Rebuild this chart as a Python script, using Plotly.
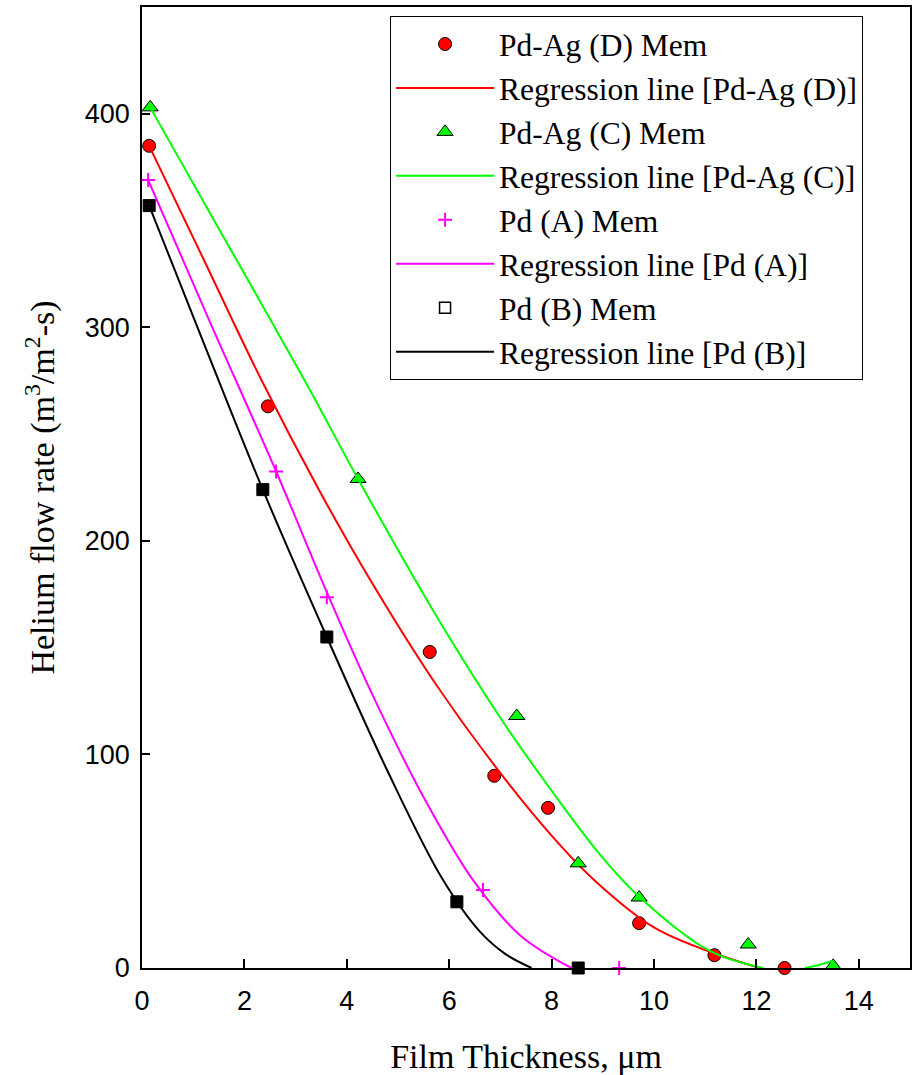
import plotly.graph_objects as go

# ---------------- data ----------------
# Pd-Ag (D) membrane measurements
d_x = [0.14, 2.46, 5.62, 6.88, 7.93, 9.71, 11.18, 12.55]
d_y = [385, 263, 148, 90, 75, 21, 6, 0]
# Regression line for Pd-Ag (D)
d_fit_x = [0.14, 1.2, 2.34, 3.5, 4.5, 5.68, 6.88, 8.0, 8.84, 10.0, 11.09, 12.07]
d_fit_y = [385, 332, 275, 222, 180, 135, 95, 62, 41, 19, 7.6, 0]

# Pd-Ag (C) membrane measurements
c_x = [0.16, 4.22, 7.32, 8.52, 9.71, 11.84, 13.5]
c_y = [403, 229, 118, 49, 33, 11, 1]
# Regression line for Pd-Ag (C) (clipped below zero -> gap)
c_fit_x = [0.16, 1.6, 3.18, 4.22, 5.82, 7.03, 8.0, 8.95, 9.71, 11.09, 12.13, None, 12.95, 13.2, 13.49]
c_fit_y = [403, 342, 275, 229, 162, 116, 83, 53, 33.4, 8, 0, None, 0, 1.3, 3.4]

# Pd (A) membrane measurements
a_x = [0.12, 2.62, 3.61, 6.66, 9.32]
a_y = [369, 232.5, 173.6, 36.5, 0]
# Regression line for Pd (A)
a_fit_x = [0.12, 1.3, 2.62, 3.61, 4.5, 5.5, 6.47, 7.4, 8.39]
a_fit_y = [369, 304, 232.5, 176, 128, 80, 41, 15, 0]

# Pd (B) membrane measurements
b_x = [0.14, 2.36, 3.61, 6.15, 8.52]
b_y = [357, 224, 155, 31, 0]
# Regression line for Pd (B)
b_fit_x = [0.14, 1.2, 2.36, 3.61, 4.8, 5.86, 6.6, 7.1, 7.61]
b_fit_y = [357, 293, 224, 155, 92, 42, 17, 6.5, 0]

x_ticks = [0, 2, 4, 6, 8, 10, 12, 14]
y_ticks = [0, 100, 200, 300, 400]

RED = "#FF0000"
GREEN = "#00FF00"
MAGENTA = "#FF00FF"
BLACK = "#000000"

fig = go.Figure()

# Pd-Ag (D)
fig.add_trace(go.Scatter(
    x=d_x, y=d_y, mode="markers", name="Pd-Ag (D) Mem", cliponaxis=False,
    marker=dict(symbol="circle", size=13, color=RED, line=dict(color=BLACK, width=1))))
fig.add_trace(go.Scatter(
    x=d_fit_x, y=d_fit_y, mode="lines", name="Regression line [Pd-Ag (D)]",
    line=dict(color=RED, width=2, shape="spline", smoothing=1)))

# Pd-Ag (C)
fig.add_trace(go.Scatter(
    x=c_x, y=c_y, mode="markers", name="Pd-Ag (C) Mem", cliponaxis=False,
    marker=dict(symbol="triangle-up", size=14, color=GREEN, line=dict(color=BLACK, width=1))))
fig.add_trace(go.Scatter(
    x=c_fit_x, y=c_fit_y, mode="lines", name="Regression line [Pd-Ag (C)]",
    connectgaps=False,
    line=dict(color=GREEN, width=2, shape="spline", smoothing=1)))

# Pd (A)
fig.add_trace(go.Scatter(
    x=a_x, y=a_y, mode="markers", name="Pd (A) Mem", cliponaxis=False,
    marker=dict(symbol="cross-thin", size=10, color=MAGENTA, line=dict(color=MAGENTA, width=2))))
fig.add_trace(go.Scatter(
    x=a_fit_x, y=a_fit_y, mode="lines", name="Regression line [Pd (A)]",
    line=dict(color=MAGENTA, width=2, shape="spline", smoothing=1)))

# Pd (B): filled squares on the plot, hollow square in the legend
fig.add_trace(go.Scatter(
    x=b_x, y=b_y, mode="markers", name="Pd (B) Mem", showlegend=False,
    legendgroup="pdb", cliponaxis=False,
    marker=dict(symbol="square", size=12, color=BLACK, line=dict(color=BLACK, width=1))))
fig.add_trace(go.Scatter(
    x=[None], y=[None], mode="markers", name="Pd (B) Mem", legendgroup="pdb",
    marker=dict(symbol="square", size=11, color="white", line=dict(color=BLACK, width=1.5))))
fig.add_trace(go.Scatter(
    x=b_fit_x, y=b_fit_y, mode="lines", name="Regression line [Pd (B)]",
    line=dict(color=BLACK, width=2, shape="spline", smoothing=1)))

SERIF = "Liberation Serif, Times New Roman, serif"
SANS = "Liberation Sans, Arial, sans-serif"

fig.update_layout(
    width=912, height=1075,
    margin=dict(l=142, r=2, t=7, b=107, autoexpand=False),
    paper_bgcolor="white", plot_bgcolor="white",
    showlegend=True,
    legend=dict(
        x=0.323, y=0.9906, xanchor="left", yanchor="top",
        bgcolor="white", bordercolor=BLACK, borderwidth=1,
        font=dict(family=SERIF, size=31.5, color=BLACK),
        itemwidth=98, tracegroupgap=0, traceorder="normal",
    ),
    xaxis=dict(
        range=[0, 15], tickvals=x_ticks, ticks="inside", ticklen=9, tickwidth=1.5,
        tickcolor=BLACK, showline=True, linecolor=BLACK, linewidth=1.5, mirror=True,
        showgrid=False, zeroline=False, ticklabelstandoff=8,
        tickfont=dict(family=SANS, size=27, color=BLACK),
        title=dict(text="Film Thickness, \u03bcm", standoff=36,
                   font=dict(family=SERIF, size=34, color=BLACK)),
    ),
    yaxis=dict(
        range=[0, 450], tickvals=y_ticks, ticks="inside", ticklen=8, tickwidth=1.5,
        tickcolor=BLACK, showline=True, linecolor=BLACK, linewidth=1.5, mirror=True,
        showgrid=False, zeroline=False, ticklabelstandoff=5,
        tickfont=dict(family=SANS, size=27, color=BLACK),
        title=dict(text="Helium flow rate (m<sup>3</sup>/m<sup>2</sup>-s)", standoff=20,
                   font=dict(family=SERIF, size=34, color=BLACK)),
    ),
)

fig.write_html("out.html", config={"displayModeBar": False},
               post_script="document.body.style.margin='0px';")
